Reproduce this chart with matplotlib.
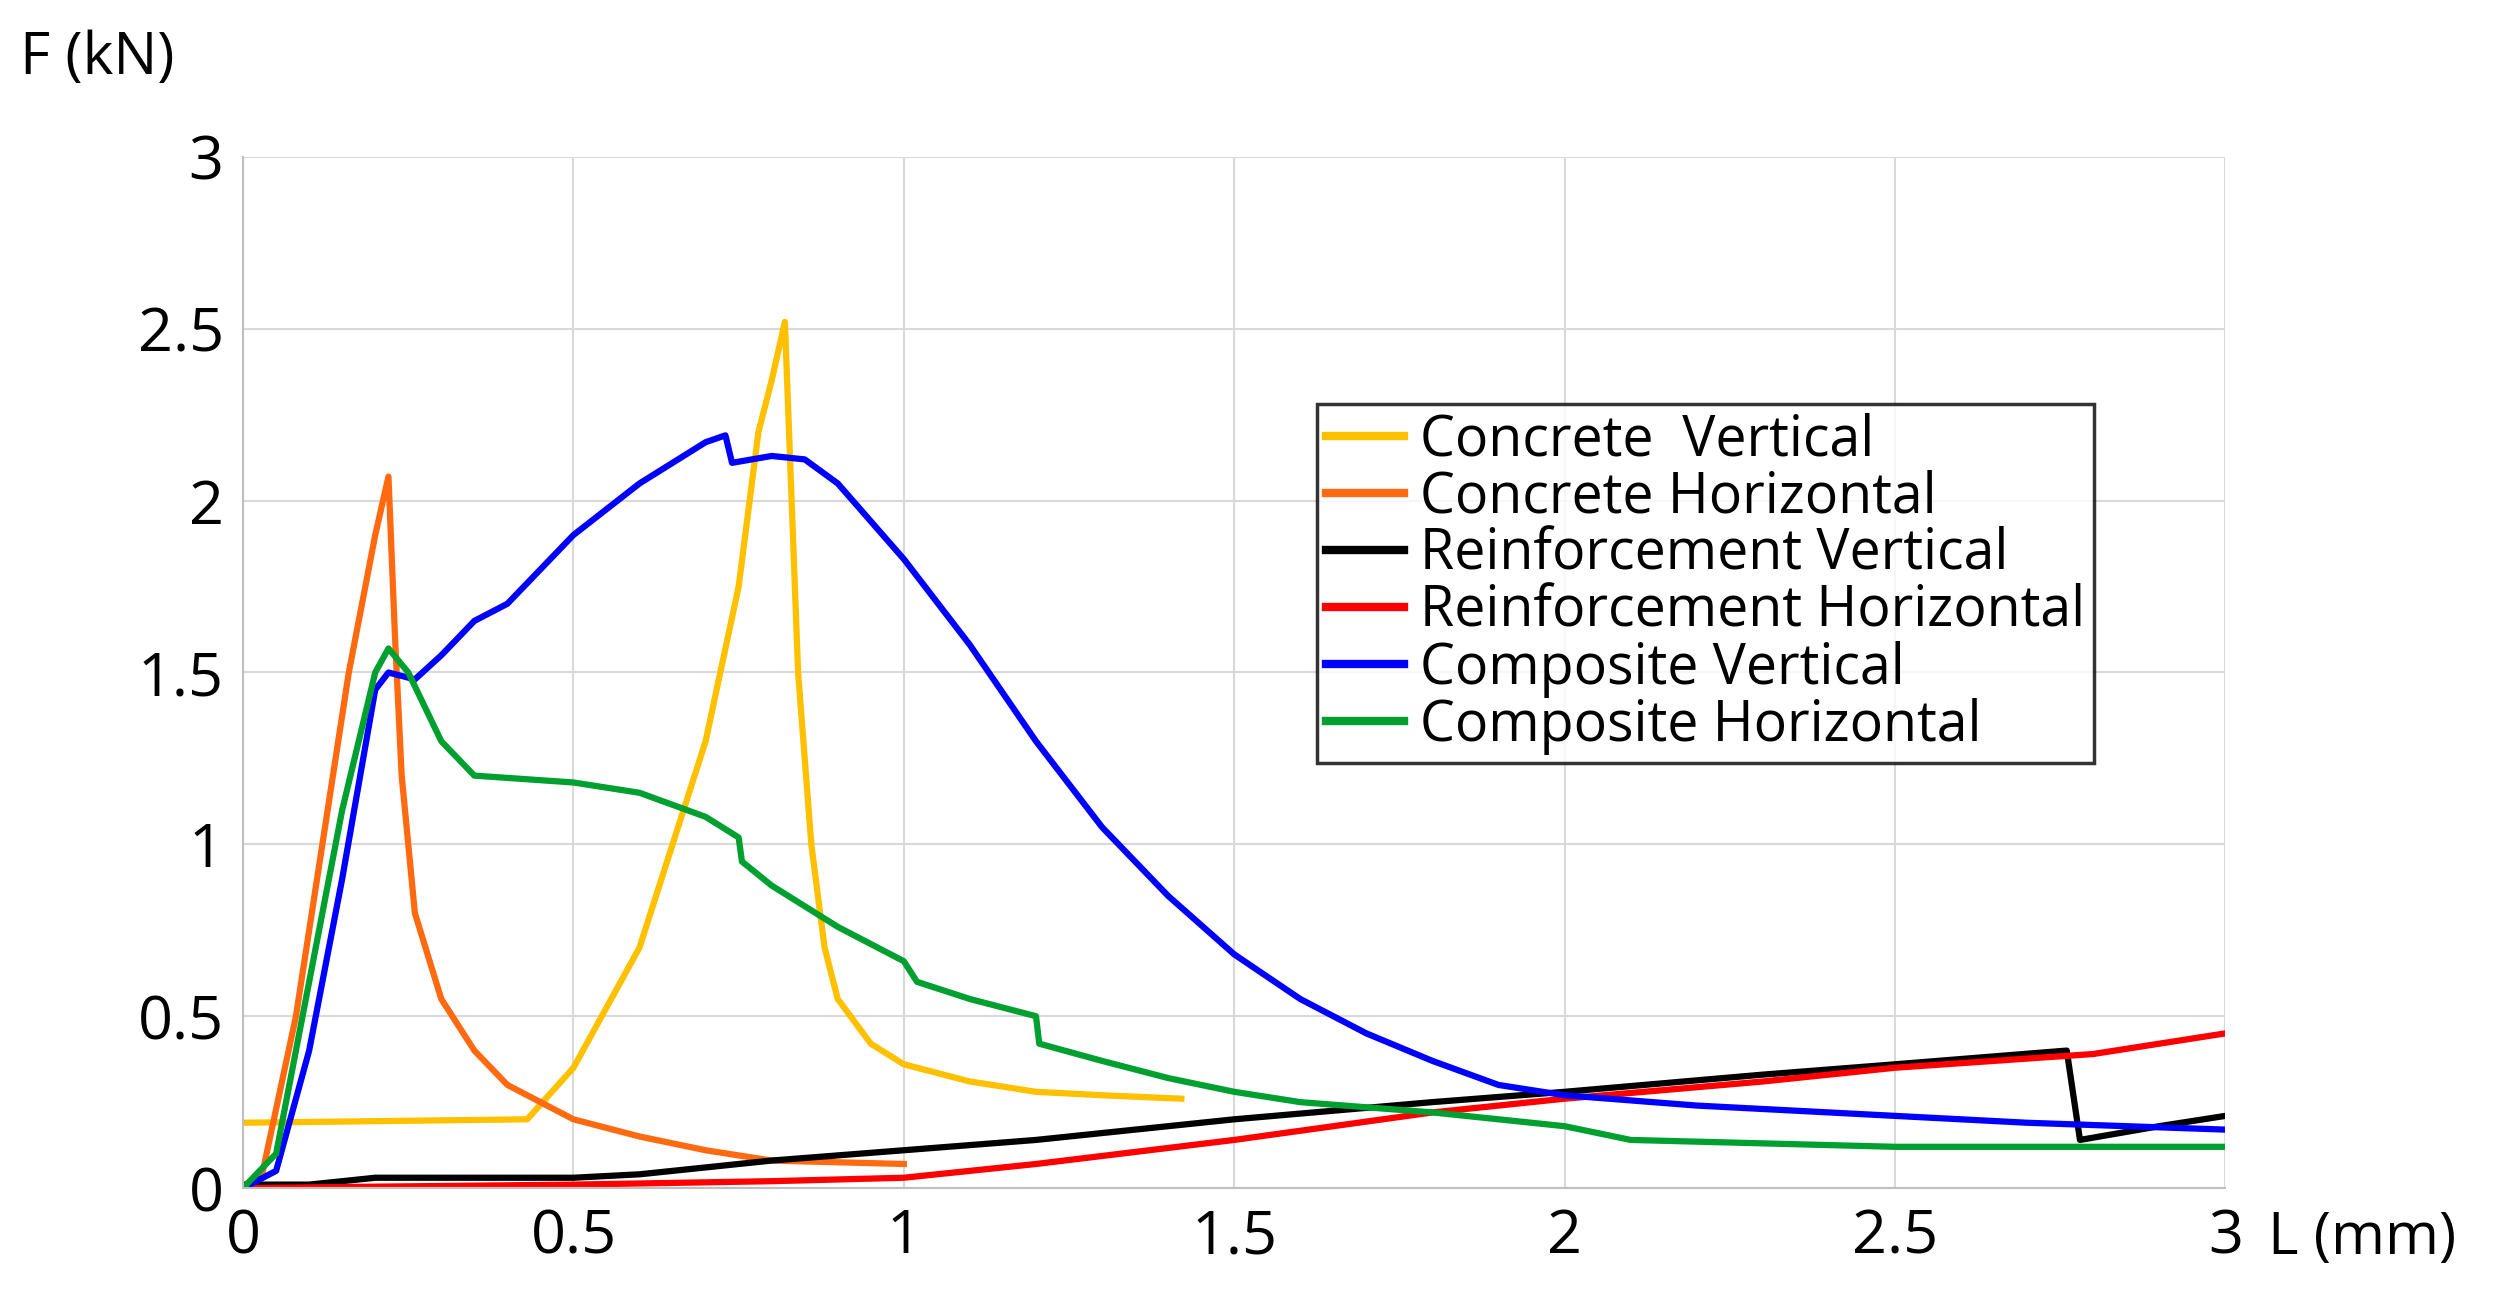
import matplotlib
matplotlib.use("Agg")
import matplotlib.pyplot as plt

plt.rcParams['font.family'] = ['Open Sans', 'DejaVu Sans']

cv_x = [0, 0.43, 0.5, 0.6, 0.7, 0.75, 0.78, 0.8, 0.82, 0.84, 0.86, 0.88, 0.9, 0.95, 1.0, 1.1, 1.2, 1.3, 1.42]
cv_y = [0.19, 0.2, 0.35, 0.7, 1.3, 1.75, 2.2, 2.35, 2.52, 1.5, 1.0, 0.7, 0.55, 0.42, 0.36, 0.31, 0.28, 0.27, 0.26]
ch_x = [0, 0.03, 0.08, 0.12, 0.16, 0.2, 0.22, 0.23, 0.24, 0.26, 0.3, 0.35, 0.4, 0.5, 0.6, 0.7, 0.8, 1.0]
ch_y = [0, 0.05, 0.5, 1.0, 1.5, 1.9, 2.07, 1.6, 1.2, 0.8, 0.55, 0.4, 0.3, 0.2, 0.15, 0.11, 0.08, 0.07]
rv_x = [0, 0.1, 0.2, 0.5, 0.6, 0.8, 1.0, 1.2, 1.5, 1.8, 2.0, 2.3, 2.5, 2.76, 2.78, 2.9, 3.0]
rv_y = [0.01, 0.01, 0.03, 0.03, 0.04, 0.08, 0.11, 0.14, 0.2, 0.25, 0.28, 0.33, 0.36, 0.40, 0.14, 0.18, 0.21]
rh_x = [0, 0.5, 0.8, 1.0, 1.2, 1.5, 1.8, 2.0, 2.3, 2.5, 2.8, 3.0]
rh_y = [0, 0.01, 0.02, 0.03, 0.07, 0.14, 0.22, 0.26, 0.31, 0.35, 0.39, 0.45]
pv_x = [0, 0.05, 0.1, 0.15, 0.2, 0.22, 0.26, 0.3, 0.35, 0.4, 0.45, 0.5, 0.6, 0.7, 0.73, 0.74, 0.8, 0.85, 0.9, 1.0, 1.1, 1.2, 1.3, 1.4, 1.5, 1.6, 1.7, 1.8, 1.9, 2.0, 2.2, 2.5, 2.7, 3.0]
pv_y = [0, 0.05, 0.4, 0.9, 1.45, 1.5, 1.48, 1.55, 1.65, 1.7, 1.8, 1.9, 2.05, 2.17, 2.19, 2.11, 2.13, 2.12, 2.05, 1.83, 1.58, 1.3, 1.05, 0.85, 0.68, 0.55, 0.45, 0.37, 0.3, 0.27, 0.24, 0.21, 0.19, 0.17]
ph_x = [0, 0.05, 0.1, 0.15, 0.2, 0.22, 0.25, 0.3, 0.35, 0.5, 0.6, 0.7, 0.75, 0.755, 0.8, 0.9, 1.0, 1.02, 1.1, 1.2, 1.205, 1.3, 1.4, 1.5, 1.6, 1.8, 2.0, 2.1, 2.3, 2.5, 3.0]
ph_y = [0, 0.1, 0.6, 1.1, 1.5, 1.57, 1.5, 1.3, 1.2, 1.18, 1.15, 1.08, 1.02, 0.95, 0.88, 0.76, 0.66, 0.6, 0.55, 0.5, 0.42, 0.37, 0.32, 0.28, 0.25, 0.22, 0.18, 0.14, 0.13, 0.12, 0.12]

series = [
    ("Concrete  Vertical", cv_x, cv_y, "#FFC000"),
    ("Concrete Horizontal", ch_x, ch_y, "#FF6A10"),
    ("Reinforcement Vertical", rv_x, rv_y, "#000000"),
    ("Reinforcement Horizontal", rh_x, rh_y, "#FF0000"),
    ("Composite Vertical", pv_x, pv_y, "#0000FF"),
    ("Composite Horizontal", ph_x, ph_y, "#00A030"),
]

fig = plt.figure(figsize=(25.06, 12.97), dpi=100)
ax = fig.add_axes([0.097, 0.084, 0.791, 0.795])
for lab, x, y, c in series:
    ax.plot(x, y, color=c, lw=4.5, label=lab, solid_joinstyle="round")
ax.set_xlim(0, 3)
ax.set_ylim(0, 3)
ax.set_xticks([0, 0.5, 1, 1.5, 2, 2.5, 3])
ax.set_xticklabels(["0", "0.5", "1", "1.5", "2", "2.5", "3"])
ax.set_yticks([0, 0.5, 1, 1.5, 2, 2.5, 3])
ax.set_yticklabels(["0", "0.5", "1", "1.5", "2", "2.5", "3"])
ax.grid(True, color="#D9D9D9", lw=1.5)
ax.set_axisbelow(True)
for s in ["top", "right"]:
    ax.spines[s].set_visible(False)
for s in ["left", "bottom"]:
    ax.spines[s].set_color("#BFBFBF")
    ax.spines[s].set_linewidth(1.5)
ax.tick_params(length=0, labelsize=44, pad=14)
fig.text(0.008, 0.955, "F (kN)", fontsize=42, va="center")
fig.text(0.905, 0.045, "L (mm)", fontsize=42, va="center")
leg = ax.legend(loc="upper left", bbox_to_anchor=(0.542, 0.76), fontsize=40,
                frameon=True, fancybox=False, edgecolor="black", handlelength=1.4,
                borderpad=0.15, labelspacing=0.0, handletextpad=0.3, borderaxespad=0)
leg.get_frame().set_linewidth(2.5)
for l in leg.get_lines():
    l.set_linewidth(6)
fig.savefig("out.png", dpi=100)
